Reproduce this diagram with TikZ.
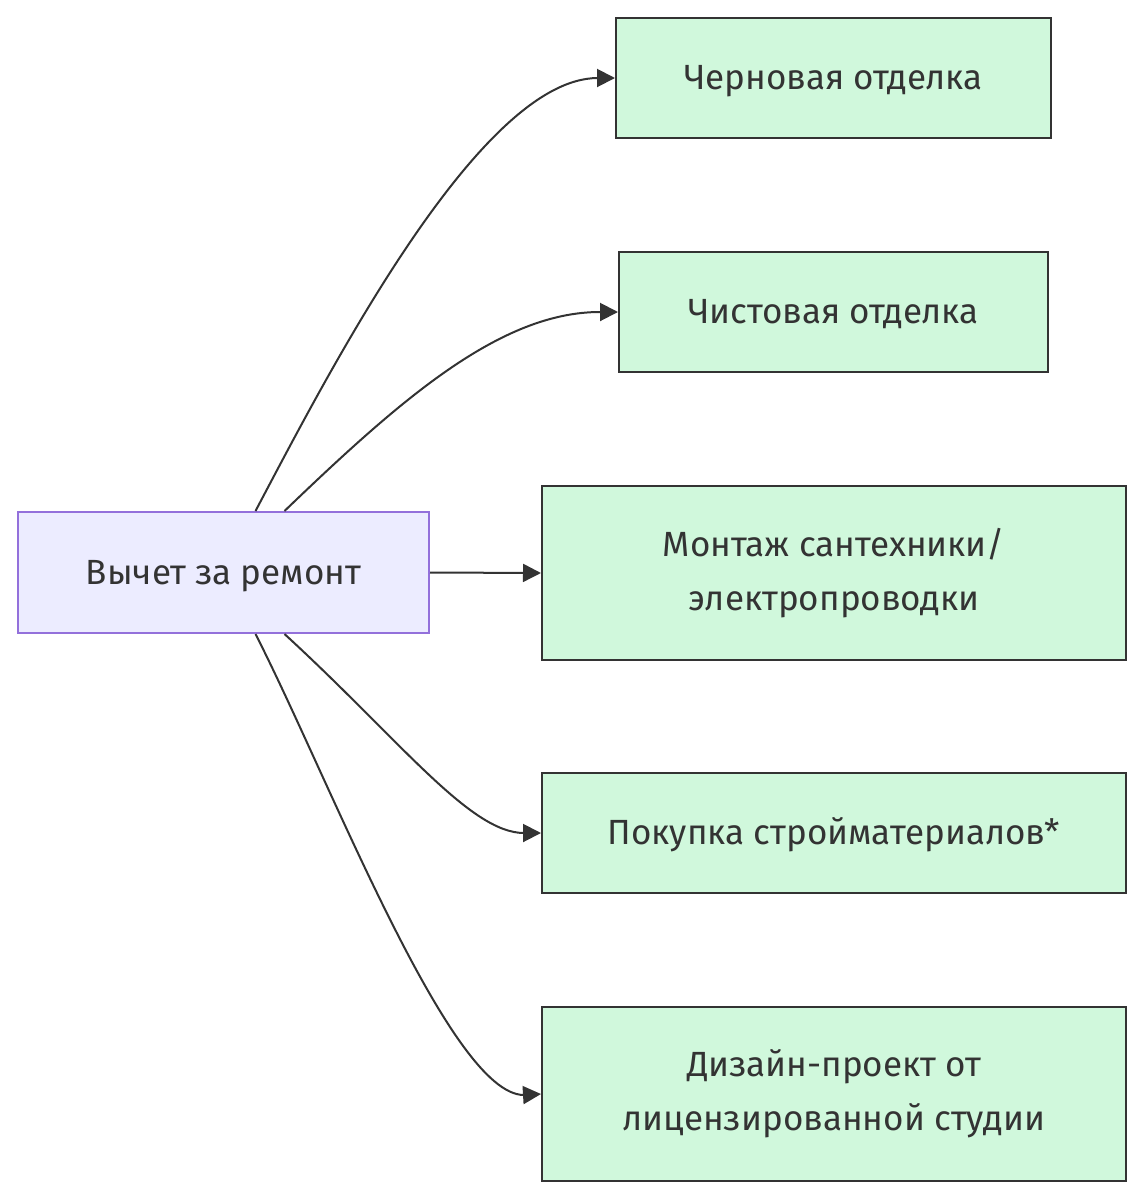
\documentclass[tikz,border=0pt]{standalone}
\usepackage{fontspec}
\setmainfont{Fira Sans}
\usetikzlibrary{arrows.meta}
\definecolor{edgegray}{HTML}{333333}
\definecolor{srcfill}{HTML}{ECECFF}
\definecolor{srcline}{HTML}{9370DB}
\definecolor{itemfill}{HTML}{D0F8DC}
\begin{document}
\begin{tikzpicture}[x=1pt,y=-1pt,
    box/.style={draw=edgegray,line width=2pt,fill=itemfill,text=edgegray,align=center,
      inner sep=0pt,font=\fontsize{35}{54}\selectfont},
    oneline/.style={text height=32pt,text depth=9pt},
    srcbox/.style={box,oneline,draw=srcline,fill=srcfill},
    link/.style={draw=edgegray,line width=2pt,-{Triangle[length=18pt,width=18pt]}}]
    \useasboundingbox (0,0) rectangle (1144,1200);
    \node[srcbox,minimum width=411pt,minimum height=121pt] (src) at (223.5,572.5) {Вычет за ремонт};
    \node[box,oneline,minimum width=435pt,minimum height=120pt] (rough) at (833.5,78) {Черновая отделка};
    \node[box,oneline,minimum width=429pt,minimum height=120pt] (finish) at (833.5,312) {Чистовая отделка};
    \node[box,minimum width=584pt,minimum height=174pt] (plumb) at (834,573) {Монтаж сантехники/\\электропроводки};
    \node[box,oneline,minimum width=584pt,minimum height=120pt] (materials) at (834,833) {Покупка стройматериалов*};
    \node[box,minimum width=584pt,minimum height=174pt] (design) at (834,1094) {Дизайн-проект от\\лицензированной студии};
    % curves leave the source box at two offsets
    \draw[link] ([xshift=32pt]src.north) .. controls (330,370) and (480,78) .. (598,78) -- (rough.west);
    \draw[link] ([xshift=61pt]src.north) .. controls (400,400) and (500,312) .. (600,312) -- (finish.west);
    \draw[link] (src.east) -- (plumb.west);
    \draw[link] ([xshift=61pt]src.south) .. controls (400,740) and (470,833) .. (524,833) -- (materials.west);
    \draw[link] ([xshift=32pt]src.south) .. controls (330,780) and (450,1095) .. (524,1095) -- (design.west);
\end{tikzpicture}
\end{document}
